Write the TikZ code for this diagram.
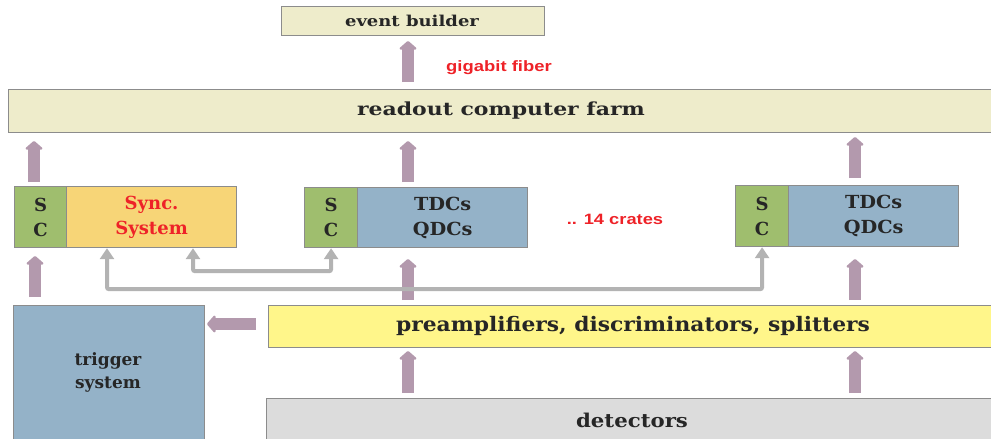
\documentclass[tikz,border=0pt]{standalone}
\usepackage{fontspec}
\setmainfont{DejaVu Serif}
\newfontfamily\labsans{Liberation Sans}
\usetikzlibrary{arrows.meta}
\definecolor{beige}{HTML}{EEECCB}
\definecolor{scgreen}{HTML}{9FBE6E}
\definecolor{syncyel}{HTML}{F7D577}
\definecolor{tdcblue}{HTML}{94B2C8}
\definecolor{preyel}{HTML}{FFF68A}
\definecolor{detgray}{HTML}{DCDCDC}
\definecolor{mauve}{HTML}{B399AD}
\definecolor{linegray}{HTML}{B3B3B3}
\definecolor{bordergray}{HTML}{8C8C8C}
\definecolor{labred}{HTML}{EE2228}
\newcommand{\fsz}[2]{\fontsize{#1}{#2}\selectfont}
\tikzset{
  box/.style={draw=bordergray, line width=1.2pt, anchor=north west, inner sep=0pt, align=center},
  boxtext/.style={font=\bfseries\fsz{18}{25}, text=black!85, align=center, inner sep=0pt},
  bigarrow/.style={draw=mauve, line width=12pt, -{Triangle[width=20pt,length=9pt,round]}, line join=round},
  syncline/.style={draw=linegray, line width=4pt, {Triangle[width=14pt,length=11pt]}-{Triangle[width=14pt,length=11pt]}, rounded corners=2pt},
  redlab/.style={text=labred, font=\labsans\bfseries\fsz{15}{17}}
}
\begin{document}
\begin{tikzpicture}[x=1pt,y=-1pt]
\useasboundingbox (0,0) rectangle (991,439);
% boxes
\node[box, fill=beige, minimum width=263pt, minimum height=29pt] (eb) at (281,6) {};
\node[boxtext, font=\bfseries\fsz{15}{18}] (ebtxt) at (412,20.5) {\scalebox{1.2}[1]{event builder}};
\node[box, fill=beige, minimum width=1000pt, minimum height=43pt] (farm) at (8,89) {};
\node[boxtext, font=\bfseries\fsz{18}{20}] (farmtxt) at (501,111) {\scalebox{1.22}[1]{readout computer farm}};
% left crate
\node[box, fill=scgreen, minimum width=52pt, minimum height=61pt] (sc1) at (14,186) {};
\node[boxtext] (sc1t) at (sc1.center) {S\\C};
\node[box, fill=syncyel, minimum width=170pt, minimum height=61pt] (sync) at (66,186) {};
\node[boxtext, text=labred] (synct) at (sync.center) {Sync.\\System};
% middle crate
\node[box, fill=scgreen, minimum width=53pt, minimum height=60pt] (sc2) at (304,187) {};
\node[boxtext] (sc2t) at (sc2.center) {S\\C};
\node[box, fill=tdcblue, minimum width=170pt, minimum height=60pt] (tdc2) at (357,187) {};
\node[boxtext] (tdc2t) at (tdc2.center) {\scalebox{1.07}[1]{TDCs}\\\scalebox{1.07}[1]{QDCs}};
% right crate
\node[box, fill=scgreen, minimum width=53pt, minimum height=61pt] (sc3) at (735,185) {};
\node[boxtext] (sc3t) at (sc3.center) {S\\C};
\node[box, fill=tdcblue, minimum width=170pt, minimum height=61pt] (tdc3) at (788,185) {};
\node[boxtext] (tdc3t) at (tdc3.center) {\scalebox{1.07}[1]{TDCs}\\\scalebox{1.07}[1]{QDCs}};
% trigger
\node[box, fill=tdcblue, minimum width=191pt, minimum height=150pt] (trig) at (13,305) {};
\node[boxtext, font=\bfseries\fsz{17}{23}] (trigtxt) at (108,372) {trigger\\system};
% preamps
\node[box, fill=preyel, minimum width=740pt, minimum height=42pt] (pre) at (268,305) {};
\node[boxtext, font=\bfseries\fsz{20}{22}] (pretxt) at (633,326) {\scalebox{1.09}[1]{preamplifiers, discriminators, splitters}};
% detectors
\node[box, fill=detgray, minimum width=740pt, minimum height=60pt] (det) at (266,398) {};
\node[boxtext, font=\bfseries\fsz{19}{21}] (dettxt) at (632,420) {\scalebox{1.12}[1]{detectors}};
% labels
\node[redlab] (gig) at (499,68) {\scalebox{1.23}[1]{gigabit fiber}};
\node[redlab] (crates) at (615,219) {\scalebox{1.22}[1]{.. 14 crates}};
% coordinates for arrows
\coordinate (a0s) at (408,82); \coordinate (a0e) at (408,41);
\coordinate (a1s) at (34,182); \coordinate (a1e) at (34,141);
\coordinate (a2s) at (408,182); \coordinate (a2e) at (408,141);
\coordinate (a3s) at (855,178); \coordinate (a3e) at (855,137);
\coordinate (b1s) at (35,297); \coordinate (b1e) at (35,256);
\coordinate (b2s) at (408,300); \coordinate (b2e) at (408,259);
\coordinate (b3s) at (855,300); \coordinate (b3e) at (855,259);
\coordinate (ts) at (256,324); \coordinate (te) at (207,324);
\coordinate (d1s) at (408,393); \coordinate (d1e) at (408,351);
\coordinate (d2s) at (855,393); \coordinate (d2e) at (855,351);
\foreach \a in {a0,a1,a2,a3,b1,b2,b3,t,d1,d2}
  \draw[bigarrow] (\a s) -- (\a e);
% sync lines
\draw[syncline] (sync.south west) ++(127,0) coordinate (s1) -- ++(0,23) -| (sc2.south);
\draw[syncline] (sync.south west) ++(41,0) coordinate (s2) -- ++(0,41) -| (sc3.south);
\end{tikzpicture}
\end{document}
